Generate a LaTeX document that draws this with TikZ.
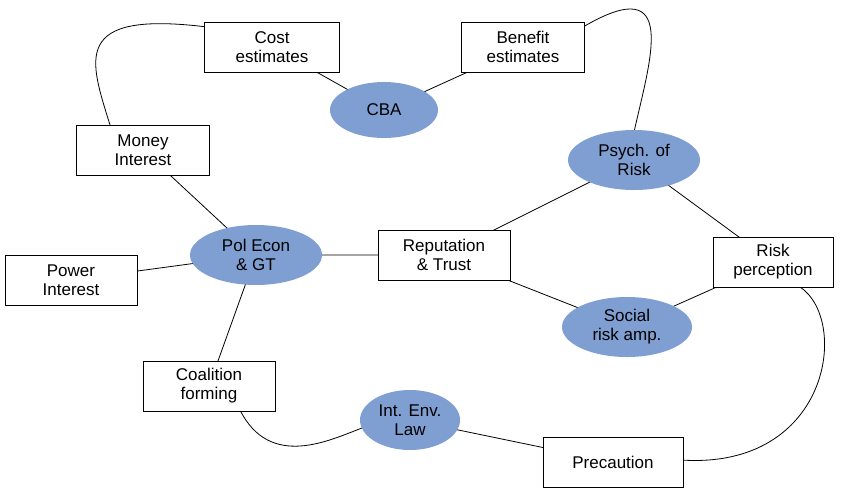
\documentclass[tikz,border=0pt]{standalone}
\usepackage{fontspec}
\setmainfont{Liberation Sans}
\usetikzlibrary{shapes.geometric}
\definecolor{ell}{HTML}{7F9FD2}
\begin{document}
\begin{tikzpicture}[x=1pt,y=-1pt,
  box/.style={draw,thick,fill=white,align=center,minimum height=50pt,inner sep=1pt,font=\fontsize{17}{19}\selectfont},
  oval/.style={ellipse,fill=ell,align=center,inner sep=0pt,font=\fontsize{17}{19}\selectfont},
  lk/.style={thick}]
\useasboundingbox (0,0) rectangle (848,491);
\begin{scope}[on background layer/.style={}]
\end{scope}
% connectors first (drawn under nodes via coordinates)
\coordinate (cost) at (272,47);
\coordinate (ben) at (523,47);
\coordinate (cba) at (384,110);
\coordinate (money) at (143,150);
\coordinate (psy) at (634,160);
\coordinate (pol) at (256,255);
\coordinate (rep) at (444,255);
\coordinate (pow) at (71,280);
\coordinate (rp) at (773,262);
\coordinate (soc) at (627,327);
\coordinate (coal) at (209,386);
\coordinate (law) at (410,420);
\coordinate (prec) at (613,462);
\draw[lk] (cost)--(cba) (ben)--(cba) (money)--(pol) (pol)--(pow) (pol)--(rep) (pol)--(coal)
  (rep)--(psy) (rep)--(soc) (psy)--(rp) (soc)--(rp) (law)--(prec);
\draw[lk] (110,125) .. controls (90,60) and (70,10) .. (207,27);
\draw[lk] (583,27) .. controls (680,-30) and (650,60) .. (634,132);
\draw[lk] (800,287) .. controls (850,320) and (830,470) .. (681,460);
\draw[lk] (240,410) .. controls (270,470) and (330,440) .. (362,428);
\node[box,minimum width=135pt] (ncost) at (cost) {Cost\\estimates};
\node[box,minimum width=123pt] (nben) at (ben) {Benefit\\estimates};
\node[oval,minimum width=108pt,minimum height=56pt] (ncba) at (cba) {CBA};
\node[box,minimum width=133pt] (nmoney) at (money) {Money\\Interest};
\node[oval,minimum width=132pt,minimum height=60pt] (npsy) at (psy) {Psych. of\\Risk};
\node[oval,minimum width=132pt,minimum height=60pt] (npol) at (pol) {Pol Econ\\\& GT};
\node[box,minimum width=132pt] (nrep) at (rep) {Reputation\\\& Trust};
\node[box,minimum width=132pt] (npow) at (pow) {Power\\Interest};
\node[box,minimum width=120pt] (nrp) at (rp) {Risk\\perception};
\node[oval,minimum width=130pt,minimum height=60pt] (nsoc) at (soc) {Social\\risk amp.};
\node[box,minimum width=132pt] (ncoal) at (coal) {Coalition\\forming};
\node[oval,minimum width=100pt,minimum height=60pt] (nlaw) at (law) {Int. Env.\\Law};
\node[box,minimum width=140pt] (nprec) at (prec) {Precaution};
\end{tikzpicture}
\end{document}
